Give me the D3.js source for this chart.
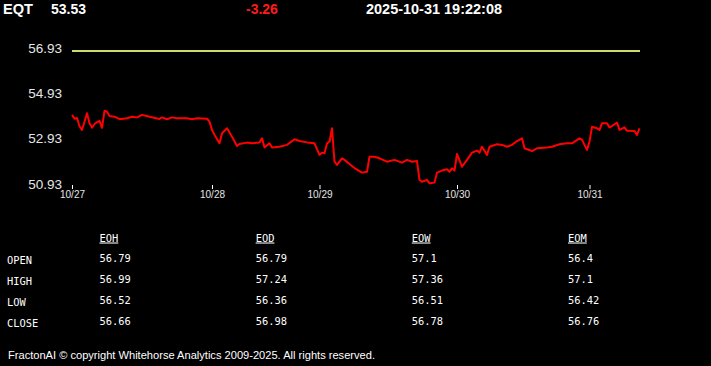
<!DOCTYPE html>
<html><head><meta charset="utf-8">
<script src="https://cdn.jsdelivr.net/npm/d3@7"></script>
<style>
html,body{margin:0;padding:0;background:#000;overflow:hidden}
svg{display:block}
</style></head>
<body>
<svg id="c" width="711" height="366"></svg>
<script>
// ---- data ----
const symbol = "EQT";
const lastPrice = "53.53";
const change = "-3.26";
const stamp = "2025-10-31 19:22:08";
const yTicks = [50.93, 52.93, 54.93, 56.93];
const refLevel = 56.93;
const dayLabels = ["10/27", "10/28", "10/29", "10/30", "10/31"];
const dayStartBars = [0, 56, 99, 154, 207];
const lastBar = 227;
const bars = [0,1,2,3,4,5,6,7,8,9,10,11,12,13,14,15,17,19,22,24,26,28,31,35,36,38,40,42,46,48,50,54,55,56,57,59,60,62,64,66,67,70,72,75,76,77,79,80,83,86,89,91,94,97,99,100,101,102,103,104,105,106,108,109,111,113,116,118,119,121,123,126,129,132,134,136,138,139,140,142,143,145,146,148,150,151,152,153,154,156,158,160,162,163,164,166,167,170,172,174,176,178,180,181,184,186,190,192,195,198,200,203,204,206,207,208,210,211,212,214,215,216,218,219,221,222,225,226,227];
const prices = [54.12,53.95,53.98,53.62,53.46,53.82,54.19,53.75,53.56,53.72,53.80,53.86,53.55,54.30,54.26,54.07,54.04,53.93,53.97,54.04,54.01,54.12,54.04,53.94,54.01,53.93,54.01,53.97,53.97,53.93,53.97,53.95,53.82,53.46,53.24,52.87,53.31,53.53,53.16,52.75,52.84,52.90,52.87,52.90,53.09,52.69,52.87,52.69,52.72,52.80,53.05,52.97,52.91,52.87,52.36,52.46,52.43,52.87,52.94,53.53,52.06,51.92,52.21,52.14,51.96,51.78,51.58,51.62,52.28,52.28,52.21,52.06,52.14,52.02,52.14,52.06,52.09,51.26,51.18,51.26,51.11,51.14,51.58,51.67,51.73,51.62,51.77,51.67,52.40,51.84,52.14,52.46,52.55,52.46,52.72,52.36,52.72,52.83,52.80,52.72,52.80,52.97,53.09,52.65,52.53,52.65,52.69,52.72,52.83,52.87,52.87,53.09,53.02,52.58,52.94,53.60,53.53,53.46,53.75,53.75,53.57,53.63,53.78,53.46,53.57,53.42,53.41,53.24,53.53];
const tableCols = ["EOH", "EOD", "EOW", "EOM"];
const tableRows = ["OPEN", "HIGH", "LOW", "CLOSE"];
const tableVals = [
  ["56.79", "56.79", "57.1", "56.4"],
  ["56.99", "57.24", "57.36", "57.1"],
  ["56.52", "56.36", "56.51", "56.42"],
  ["56.66", "56.98", "56.78", "56.76"]
];
const footer = "FractonAI \u00A9 copyright Whitehorse Analytics 2009-2025. All rights reserved.";

// ---- drawing ----
const svg = d3.select("#c");
svg.append("rect").attr("width", 711).attr("height", 366).attr("fill", "#000");

const sans = "'Liberation Sans', Arial, sans-serif";
const mono = "'DejaVu Sans Mono', monospace";

// header
const hdr = svg.append("g").attr("font-family", sans).attr("font-weight", "bold").attr("font-size", 14);
hdr.append("text").attr("x", 3).attr("y", 14).attr("fill", "#fff")
  .attr("textLength", 30).attr("lengthAdjust", "spacingAndGlyphs").text(symbol);
hdr.append("text").attr("x", 51).attr("y", 14).attr("fill", "#fff").text(lastPrice);
hdr.append("text").attr("x", 246).attr("y", 14).attr("fill", "#ff1a1a").text(change);
hdr.append("text").attr("x", 366).attr("y", 14).attr("fill", "#fff")
  .attr("textLength", 136).attr("lengthAdjust", "spacingAndGlyphs").text(stamp);

// scales
const x = d3.scaleLinear().domain([0, lastBar]).range([72, 639.5]);
const y = d3.scaleLinear().domain([50.93, 56.93]).range([187.4, 51]);

// y labels
svg.append("g").selectAll("text").data(yTicks).join("text")
  .attr("x", 62).attr("y", d => y(d) + 1.5)
  .attr("text-anchor", "end")
  .attr("font-family", sans).attr("font-size", 13.5)
  .attr("fill", "#e6e6e6")
  .text(d => d.toFixed(2));

// x axis
const xAxis = d3.axisBottom(x).tickValues(dayStartBars)
  .tickFormat((d, i) => dayLabels[i]).tickSize(4).tickPadding(2);
const gx = svg.append("g").attr("transform", "translate(0,185)").call(xAxis);
gx.select(".domain").remove();
gx.selectAll("line").attr("stroke", "#fff");
gx.selectAll("text").attr("fill", "#e6e6e6").attr("font-family", sans).attr("font-size", 10);

// reference level line
svg.append("line")
  .attr("x1", x(0)).attr("x2", x(lastBar) + 0.5)
  .attr("y1", y(refLevel)).attr("y2", y(refLevel))
  .attr("stroke", "#cfdc6c").attr("stroke-width", 2.2);

// price line
const pts = bars.map((b, i) => [b, prices[i]]);
svg.append("path").datum(pts)
  .attr("fill", "none").attr("stroke", "#ff0000").attr("stroke-width", 2)
  .attr("stroke-linejoin", "round")
  .attr("d", d3.line().x(d => x(d[0])).y(d => y(d[1])));

// table
const colX = d3.scalePoint().domain(tableCols).range([99.5, 568]);
const rowY = d3.scalePoint().domain(tableRows).range([264, 327]);
const tg = svg.append("g").attr("font-family", mono).attr("font-size", 10.4).attr("fill", "#fff");
tg.selectAll("text.h").data(tableCols).join("text").attr("class", "h")
  .attr("x", d => colX(d)).attr("y", 241.5)
  .attr("text-decoration", "underline")
  .text(d => d);
tg.selectAll("text.r").data(tableRows).join("text").attr("class", "r")
  .attr("x", 7).attr("y", d => rowY(d)).text(d => d);
tableRows.forEach((r, ri) => {
  tg.selectAll("text.v" + ri).data(tableVals[ri]).join("text").attr("class", "v" + ri)
    .attr("x", (d, ci) => colX(tableCols[ci])).attr("y", rowY(r) - 2.5)
    .text(d => d);
});

// footer
svg.append("text").attr("x", 8).attr("y", 359)
  .attr("font-family", sans).attr("font-size", 11).attr("fill", "#fff")
  .attr("textLength", 367).attr("lengthAdjust", "spacingAndGlyphs")
  .text(footer);
</script>
</body></html>
